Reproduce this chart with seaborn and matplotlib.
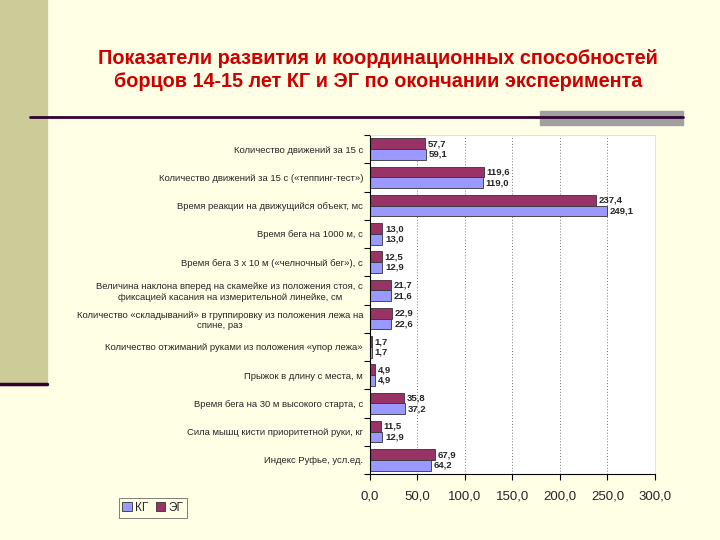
import numpy as np
import pandas as pd
import matplotlib
matplotlib.use("Agg")
import matplotlib.pyplot as plt
from matplotlib.patches import Rectangle, Patch
from matplotlib.lines import Line2D
import seaborn as sns

# data
categories = [
    "Количество движений за 15 с",
    "Количество движений за 15 с («теппинг-тест»)",
    "Время реакции на движущийся объект, мс",
    "Время бега на 1000 м, с",
    "Время бега 3 х 10 м («челночный бег»), с",
    "Величина наклона вперед на скамейке из положения стоя, с\nфиксацией касания на измерительной линейке, см",
    "Количество «складываний» в группировку из положения лежа на\nспине, раз",
    "Количество отжиманий руками из положения «упор лежа»",
    "Прыжок в длину с места, м",
    "Время бега на 30 м высокого старта, с",
    "Сила мышц кисти приоритетной руки, кг",
    "Индекс Руфье, усл.ед.",
]
eg = [57.7, 119.6, 237.4, 13.0, 12.5, 21.7, 22.9, 1.7, 4.9, 35.8, 11.5, 67.9]
kg = [59.1, 119.0, 249.1, 13.0, 12.9, 21.6, 22.6, 1.7, 4.9, 37.2, 12.9, 64.2]
x_ticks = [0, 50, 100, 150, 200, 250, 300]

df = pd.DataFrame({
    "cat": categories * 2,
    "value": eg + kg,
    "group": ["ЭГ"] * len(eg) + ["КГ"] * len(kg),
})

col_eg = "#993366"
col_kg = "#9999FF"
bg = "#FFFFE6"

sns.set_style("white")
plt.rcParams["font.family"] = ["Liberation Sans", "DejaVu Sans"]

fig = plt.figure(figsize=(7.2, 5.4), dpi=100, facecolor=bg)

# slide decorations
fig.patches.append(Rectangle((0, 1 - 385 / 540), 47 / 720, 385 / 540,
                             transform=fig.transFigure, color="#CCCC99", zorder=0))
fig.lines.append(Line2D([0, 47 / 720], [1 - 384 / 540] * 2, transform=fig.transFigure,
                        color="#330033", lw=2.5))
fig.patches.append(Rectangle((540 / 720, 1 - 125 / 540), 143 / 720, 14 / 540,
                             transform=fig.transFigure, color="#A0A0A0", zorder=0))
fig.lines.append(Line2D([30 / 720, 683 / 720], [1 - 117 / 540] * 2, transform=fig.transFigure,
                        color="#330033", lw=2))

fig.text(0.525, 1 - 70 / 540,
         "Показатели развития и координационных способностей\nборцов 14-15 лет КГ и ЭГ по окончании эксперимента",
         ha="center", va="center", color="#CC0000", fontsize=14.3, fontweight="bold",
         linespacing=1.25)

ax = fig.add_axes([370 / 720, 1 - 474 / 540, 285 / 720, 339 / 540])
ax.set_facecolor("white")
sns.barplot(data=df, y="cat", x="value", hue="group", hue_order=["ЭГ", "КГ"],
            palette={"ЭГ": col_eg, "КГ": col_kg}, orient="h", width=0.76, saturation=1,
            edgecolor="#333333", linewidth=0.6, ax=ax, legend=False)

for cont in ax.containers:
    ax.bar_label(cont, labels=[f"{v:.1f}".replace(".", ",") for v in cont.datavalues],
                 padding=2, fontsize=6.8, fontweight="bold")

ax.set_xlim(0, 300)
ax.set_xticks(x_ticks)
ax.set_xticklabels([f"{t:.1f}".replace(".", ",") for t in x_ticks], fontsize=9.5)
ax.xaxis.grid(True, linestyle=(0, (1, 2)), color="#777777", lw=0.7)
ax.set_axisbelow(True)
ax.set_xlabel("")
ax.set_ylabel("")
ax.tick_params(axis="y", length=0, labelsize=6.8, pad=5)
for lab in ax.get_yticklabels():
    lab.set_multialignment("center")
ax.set_yticks(np.arange(-0.5, len(categories)), minor=True)
ax.tick_params(axis="y", which="minor", length=4, width=0.8, color="black", left=True)
ax.tick_params(axis="x", length=4, width=0.8, color="black", bottom=True, pad=8)
for s in ["left", "bottom"]:
    ax.spines[s].set_color("black")
    ax.spines[s].set_linewidth(0.8)
for s in ["top", "right"]:
    ax.spines[s].set_color("#DDDDDD")
    ax.spines[s].set_linewidth(0.6)

handles = [Patch(facecolor=col_kg, edgecolor="#333333", lw=0.6),
           Patch(facecolor=col_eg, edgecolor="#333333", lw=0.6)]
leg = fig.legend(handles, ["КГ", "ЭГ"], loc="center", bbox_to_anchor=(153 / 720, 1 - 508 / 540),
                 ncol=2, fontsize=8.5, frameon=True, fancybox=False, handlelength=0.8,
                 handleheight=0.8, handletextpad=0.3, columnspacing=0.6,
                 borderpad=0.3, edgecolor="#444444")
leg.get_frame().set_linewidth(0.6)
leg.get_frame().set_facecolor(bg)

fig.savefig("out.png", dpi=100, facecolor=bg)
